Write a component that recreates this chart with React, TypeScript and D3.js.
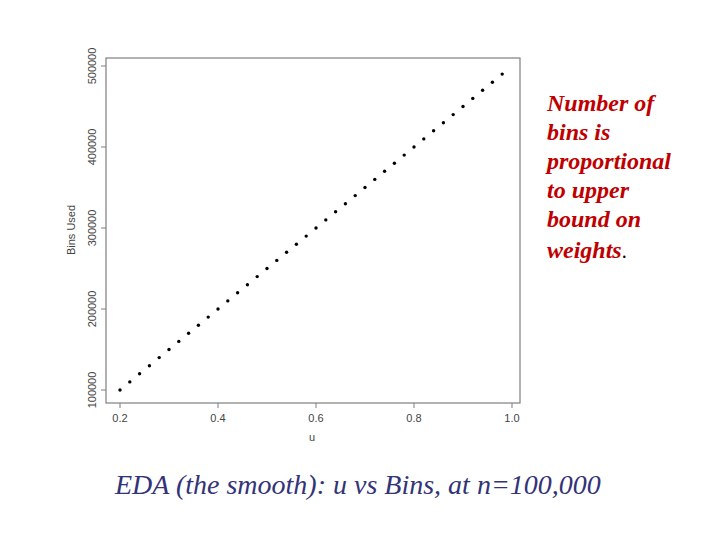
import React from "react";
import * as d3 from "d3";

const uValues = [0.2, 0.22, 0.24, 0.26, 0.28, 0.3, 0.32, 0.34, 0.36, 0.38, 0.4, 0.42, 0.44, 0.46, 0.48, 0.5, 0.52, 0.54, 0.56, 0.58, 0.6, 0.62, 0.64, 0.66, 0.68, 0.7, 0.72, 0.74, 0.76, 0.78, 0.8, 0.82, 0.84, 0.86, 0.88, 0.9, 0.92, 0.94, 0.96, 0.98];
const binsUsed = [100000, 110000, 120000, 130000, 140000, 150000, 160000, 170000, 180000, 190000, 200000, 210000, 220000, 230000, 240000, 250000, 260000, 270000, 280000, 290000, 300000, 310000, 320000, 330000, 340000, 350000, 360000, 370000, 380000, 390000, 400000, 410000, 420000, 430000, 440000, 450000, 460000, 470000, 480000, 490000];
const xTicks = [0.2, 0.4, 0.6, 0.8, 1.0];
const yTicks = [100000, 200000, 300000, 400000, 500000];
const noteLines = ["Number of", "bins is", "proportional", "to upper", "bound on"];
const caption = "EDA (the smooth): u vs Bins, at n=100,000";

export default function App() {
  const x = d3.scaleLinear().domain([0.2, 1.0]).range([120, 512]);
  const y = d3.scaleLinear().domain([100000, 500000]).range([390, 66]);
  const box = { l: 106, t: 58, r: 520, b: 403 };
  const axisColor = "#7f7f7f";
  const labelColor = "#444";
  return (
    <svg width={720} height={540} style={{ position: "absolute", left: 0, top: 0, background: "#fff" }}>
      <rect x={box.l} y={box.t} width={box.r - box.l} height={box.b - box.t} fill="none" stroke={axisColor} strokeWidth={1.2} />
      {xTicks.map((t) => (
        <g key={"x" + t}>
          <line x1={x(t)} x2={x(t)} y1={box.b} y2={box.b + 5} stroke={axisColor} />
          <text x={x(t)} y={422} textAnchor="middle" fontFamily="Liberation Sans, Arial, sans-serif" fontSize={11} fill={labelColor}>
            {d3.format(".1f")(t)}
          </text>
        </g>
      ))}
      {yTicks.map((t) => (
        <g key={"y" + t}>
          <line x1={box.l - 5} x2={box.l} y1={y(t)} y2={y(t)} stroke={axisColor} />
          <text transform={`translate(96,${y(t)}) rotate(-90)`} textAnchor="middle" fontFamily="Liberation Sans, Arial, sans-serif" fontSize={11} fill={labelColor}>
            {String(t)}
          </text>
        </g>
      ))}
      <text x={312} y={441} textAnchor="middle" fontFamily="Liberation Sans, Arial, sans-serif" fontSize={11} fill={labelColor}>u</text>
      <text transform={`translate(75,230) rotate(-90)`} textAnchor="middle" fontFamily="Liberation Sans, Arial, sans-serif" fontSize={11} fill={labelColor}>Bins Used</text>
      {uValues.map((u, i) => (
        <circle key={i} cx={x(u)} cy={y(binsUsed[i])} r={1.7} fill="#000" />
      ))}
      {noteLines.map((s, i) => (
        <text key={s} x={547} y={111 + i * 29} fontFamily="Liberation Serif, Times New Roman, serif" fontStyle="italic" fontWeight="bold" fontSize={24} fill="#c00000">
          {s}
        </text>
      ))}
      <text x={547} y={258} fontFamily="Liberation Serif, Times New Roman, serif" fontSize={24}>
        <tspan fontStyle="italic" fontWeight="bold" fill="#c00000">weights</tspan>
        <tspan fill="#000" fontSize={20}>.</tspan>
      </text>
      <text x={115} y={494} fontFamily="Liberation Serif, Times New Roman, serif" fontStyle="italic" fontSize={28} fill="#333378">
        {caption}
      </text>
    </svg>
  );
}
